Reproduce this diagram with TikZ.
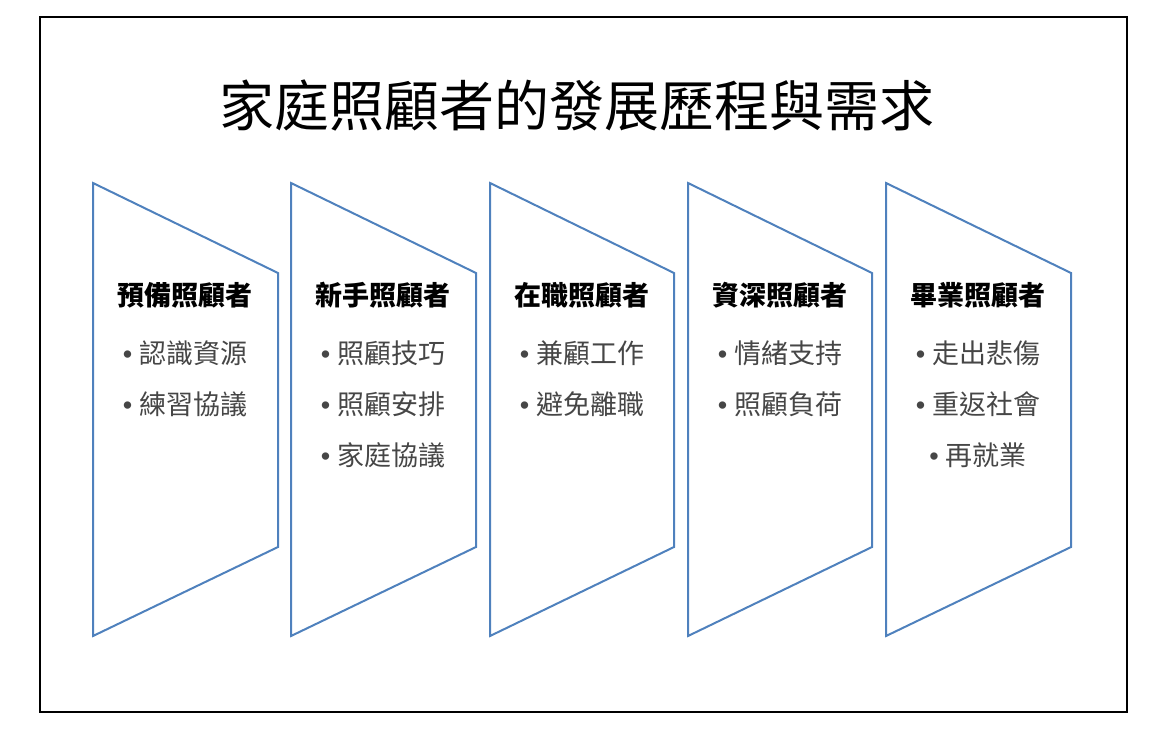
\documentclass[tikz,border=0pt]{standalone}
\usepackage{fontspec}
\setmainfont{Noto Sans CJK TC}
\newfontfamily\dotfont{Liberation Sans}
\newcommand{\bul}{{\dotfont •}\hspace{7pt}}
\definecolor{panelblue}{RGB}{79,129,189}
\definecolor{itemgray}{RGB}{70,70,70}
\begin{document}
\begin{tikzpicture}[x=1pt,y=-1pt]
\useasboundingbox (0,0) rectangle (1156,736);
\tikzset{panel/.style={draw=panelblue,line width=2pt,line join=miter}};
\tikzset{head/.style={font=\fontsize{27}{30}\selectfont\bfseries,inner sep=0pt}};
\tikzset{item/.style={font=\fontsize{27}{30}\selectfont,text=itemgray,inner sep=0pt}};

\draw[line width=1.4pt] (40,17) rectangle (1127,712);
\node (title) at (577,105) {\fontsize{55}{60}\selectfont 家庭照顧者的發展歷程與需求};

% stage shapes
\draw[panel] (93,183) -- (278,273) -- (278,547) -- (93,636) -- cycle;
\draw[panel] (291,183) -- (476,273) -- (476,547) -- (291,636) -- cycle;
\draw[panel] (490,183) -- (674,273) -- (674,547) -- (490,636) -- cycle;
\draw[panel] (688,183) -- (872,273) -- (872,547) -- (688,636) -- cycle;
\draw[panel] (886,183) -- (1071,273) -- (1071,547) -- (886,636) -- cycle;

% stage texts
\node[head] (prep) at (185,295) {預備照顧者};
\node[item] (prepA) at (185,353) {\bul 認識資源};
\node[item] (prepB) at (185,404) {\bul 練習協議};

\node[head] (novice) at (383,295) {新手照顧者};
\node[item] (noviceA) at (383,353) {\bul 照顧技巧};
\node[item] (noviceB) at (383,404) {\bul 照顧安排};
\node[item] (noviceC) at (383,455) {\bul 家庭協議};

\node[head] (onjob) at (582,295) {在職照顧者};
\node[item] (onjobA) at (582,353) {\bul 兼顧工作};
\node[item] (onjobB) at (582,404) {\bul 避免離職};

\node[head] (senior) at (780,295) {資深照顧者};
\node[item] (seniorA) at (780,353) {\bul 情緒支持};
\node[item] (seniorB) at (780,404) {\bul 照顧負荷};

\node[head] (grad) at (978,295) {畢業照顧者};
\node[item] (gradA) at (978,353) {\bul 走出悲傷};
\node[item] (gradB) at (978,404) {\bul 重返社會};
\node[item] (gradC) at (978,455) {\bul 再就業};
\end{tikzpicture}
\end{document}
